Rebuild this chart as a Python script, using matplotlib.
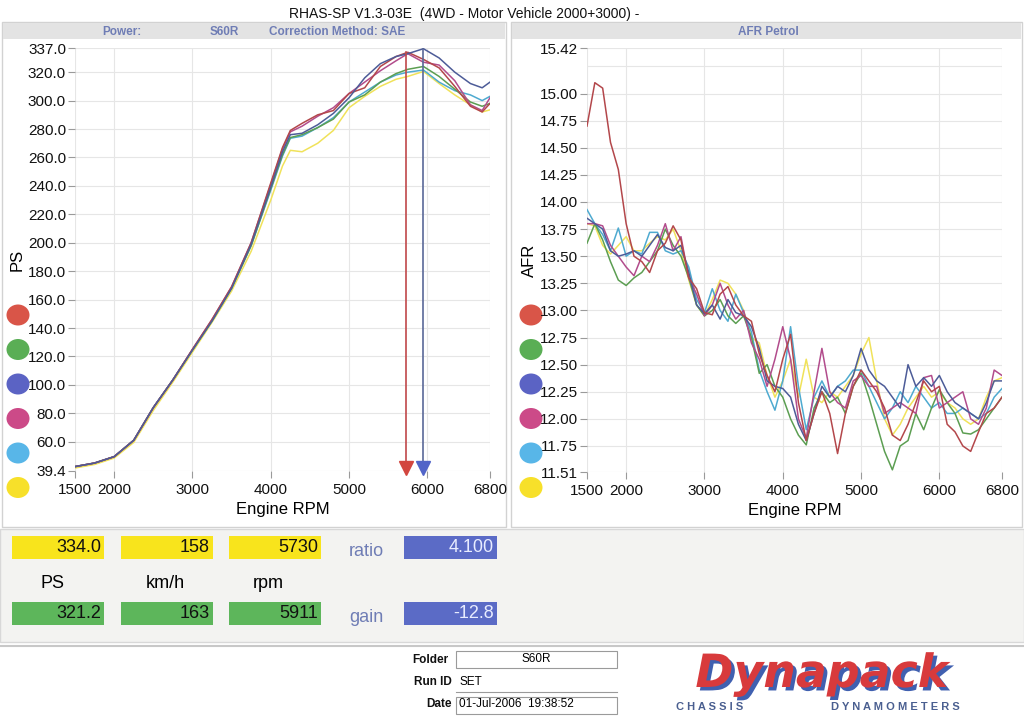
import matplotlib
matplotlib.use("Agg")
from matplotlib import pyplot as plt
from matplotlib import patheffects
from matplotlib.patches import Rectangle, Ellipse

plt.rcParams['font.family'] = ['Liberation Sans', 'DejaVu Sans']

# ---- power curves (PS vs rpm) ----
pw_rpm = [1500, 1750, 2000, 2250, 2500, 2750, 3000, 3250, 3500, 3750, 4000, 4150, 4250,
          4400, 4600, 4800, 5000, 5200, 5400, 5600, 5750, 5950, 6150, 6350, 6550, 6700, 6800]
ps_red = [42.5, 45, 49.5, 61, 84, 103.5, 125, 146, 169, 200, 242, 267, 279,
          284, 290, 293, 305, 309, 324, 331, 334, 329, 323, 310, 296, 292, 298]
ps_green = [42.5, 45, 49.5, 61, 84, 103.5, 124.5, 145, 168, 198, 238, 262, 274,
            276, 281, 287, 299, 304, 313, 319, 322, 324, 317, 308, 299, 296, 298]
ps_blue = [42.5, 45, 49.5, 61, 84, 103.5, 124.5, 145, 168, 199, 239, 264, 276,
           277, 283, 291, 302, 316, 326, 331, 333, 336.5, 330, 320, 312, 309, 313]
ps_magenta = [42.5, 45, 49.5, 61, 84, 103.5, 125, 146, 169, 200, 241, 266, 278,
              282, 289, 295, 305, 313, 321, 328, 333, 327, 325, 314, 297, 293, 302]
ps_cyan = [42.5, 45, 49.5, 61, 84, 103.5, 124.5, 145, 168, 198, 237, 261, 273.5,
           275, 281, 288, 299, 306, 313, 318, 320, 321.5, 313, 307, 304, 300, 303]
ps_yellow = [41.5, 44, 48.5, 59.5, 82, 102, 123, 144, 166, 194, 230, 254, 265,
             264, 270, 279, 295, 303, 310, 315, 317, 320.5, 312, 304, 297, 292, 293.5]

# ---- AFR curves ----
afr_rpm = [1500, 1600, 1700, 1800, 1900, 2000, 2100, 2200, 2300, 2400, 2500, 2600, 2700, 2800,
           2900, 3000, 3100, 3200, 3300, 3400, 3500, 3600, 3700, 3800, 3900, 4000, 4100, 4200,
           4300, 4400, 4500, 4600, 4700, 4800, 4900, 5000, 5100, 5200, 5300, 5400, 5500, 5600,
           5700, 5800, 5900, 6000, 6100, 6200, 6300, 6400, 6500, 6600, 6700, 6800]
afr_red = [14.70, 15.10, 15.05, 14.55, 14.30, 13.80, 13.50, 13.45, 13.35, 13.55, 13.62, 13.78, 13.65, 13.30,
           13.20, 12.98, 12.96, 13.15, 13.22, 13.05, 12.95, 12.90, 12.60, 12.40, 12.25, 12.55, 12.78, 12.15,
           11.80, 12.05, 12.25, 12.05, 11.68, 12.05, 12.30, 12.45, 12.35, 12.25, 12.10, 11.85, 11.80, 11.95,
           12.15, 12.35, 12.25, 12.30, 11.95, 11.88, 11.75, 11.70, 11.88, 12.05, 12.10, 12.20]
afr_green = [13.62, 13.80, 13.65, 13.45, 13.28, 13.23, 13.30, 13.35, 13.45, 13.55, 13.75, 13.60, 13.50, 13.30,
             13.05, 12.95, 13.00, 13.10, 12.95, 12.88, 12.95, 12.75, 12.42, 12.50, 12.30, 12.20, 12.00, 11.85,
             11.76, 12.10, 12.25, 12.15, 12.20, 12.05, 12.30, 12.42, 12.20, 11.95, 11.70, 11.53, 11.75, 11.80,
             12.05, 11.90, 12.10, 12.27, 12.15, 12.05, 11.87, 11.86, 11.90, 12.00, 12.10, 12.20]
afr_blue = [13.85, 13.80, 13.75, 13.55, 13.50, 13.52, 13.55, 13.50, 13.60, 13.70, 13.58, 13.55, 13.60, 13.35,
            13.05, 12.97, 13.05, 12.92, 13.10, 12.98, 12.95, 12.85, 12.65, 12.35, 12.30, 12.28, 12.20, 11.95,
            11.80, 12.05, 12.30, 12.20, 12.30, 12.25, 12.40, 12.65, 12.45, 12.35, 12.30, 12.20, 12.10, 12.50,
            12.30, 12.38, 12.30, 12.40, 12.25, 12.15, 12.10, 12.05, 12.00, 12.15, 12.35, 12.35]
afr_magenta = [13.80, 13.80, 13.78, 13.60, 13.50, 13.40, 13.32, 13.50, 13.45, 13.60, 13.80, 13.55, 13.68, 13.30,
               13.15, 12.95, 13.05, 13.25, 13.05, 12.92, 13.00, 12.70, 12.55, 12.30, 12.55, 12.85, 12.55, 12.00,
               11.82, 12.25, 12.65, 12.25, 12.15, 12.10, 12.35, 12.40, 12.30, 12.30, 12.05, 12.10, 12.15, 12.10,
               12.05, 12.38, 12.40, 12.10, 12.15, 12.20, 12.25, 12.00, 11.95, 12.10, 12.45, 12.40]
afr_cyan = [13.93, 13.80, 13.70, 13.55, 13.76, 13.50, 13.55, 13.52, 13.72, 13.72, 13.55, 13.52, 13.55, 13.40,
            13.10, 12.98, 13.20, 13.00, 12.90, 13.15, 12.98, 12.80, 12.45, 12.25, 12.08, 12.35, 12.85, 12.30,
            11.90, 12.20, 12.35, 12.20, 12.30, 12.35, 12.45, 12.45, 12.30, 12.15, 12.00, 12.10, 12.25, 12.15,
            12.30, 12.20, 12.10, 12.15, 12.05, 12.05, 12.10, 12.05, 12.00, 12.05, 12.20, 12.28]
afr_yellow = [13.80, 13.78, 13.60, 13.52, 13.60, 13.68, 13.55, 13.55, 13.62, 13.68, 13.65, 13.75, 13.55, 13.28,
              13.05, 12.95, 13.10, 13.28, 13.25, 13.15, 13.00, 12.75, 12.70, 12.40, 12.20, 12.35, 12.55, 12.20,
              12.55, 12.20, 12.15, 12.25, 12.20, 12.30, 12.40, 12.60, 12.75, 12.35, 12.00, 11.85, 11.95, 12.10,
              12.20, 12.30, 12.20, 12.25, 12.15, 12.10, 12.00, 11.95, 12.00, 12.20, 12.35, 12.38]

line_cols = ['#b3474b', '#5c9e52', '#4d5c98', '#b24c8c', '#4eaad0', '#f0e25a']
dot_cols = ['#d95548', '#5aae55', '#5b63c4', '#cc4a88', '#58b6e8', '#f7e02a']

ps_ticks = [39.4, 60, 80, 100, 120, 140, 160, 180, 200, 220, 240, 260, 280, 300, 320, 337]
afr_ticks = [11.51, 11.75, 12.00, 12.25, 12.50, 12.75, 13.00, 13.25, 13.50, 13.75, 14.00,
             14.25, 14.50, 14.75, 15.00, 15.42]
rpm_ticks = [1500, 2000, 3000, 4000, 5000, 6000, 6800]

peak_rpm = [5730, 5950]
peak_ps = [334.0, 336.5]

top_vals = ['334.0', '158', '5730']
bot_vals = ['321.2', '163', '5911']
units = ['PS', 'km/h', 'rpm']

fig = plt.figure(figsize=(10.24, 7.18), dpi=100)
fig.patch.set_facecolor('white')

# background sheet in pixel coordinates
bg = fig.add_axes([0, 0, 1, 1], zorder=0)
bg.set_xlim(0, 1024)
bg.set_ylim(718, 0)
bg.axis('off')

for x0, w in [(2, 504), (511, 511)]:
    bg.add_patch(Rectangle((x0, 22), w, 505, fc='white', ec='#d2d2d2', lw=1))
    bg.add_patch(Rectangle((x0 + 1, 23), w - 2, 16, fc='#e3e3e3', ec='none'))

bg.text(464, 14, 'RHAS-SP V1.3-03E  (4WD - Motor Vehicle 2000+3000) -', ha='center',
        va='center', fontsize=10, color='#111111')
hdr = dict(va='center', ha='center', fontsize=8.5, fontweight='bold', color='#6f7db5')
bg.text(122, 32, 'Power:', **hdr)
bg.text(224, 32, 'S60R', **hdr)
bg.text(337, 32, 'Correction Method: SAE', **hdr)
bg.text(768, 32, 'AFR Petrol', **hdr)

# legend dots
for cx in [18, 531]:
    for i, c in enumerate(dot_cols):
        bg.add_patch(Ellipse((cx, 315 + i * 34.5), 23, 21, fc=c, ec='none'))

# lower info panel
bg.add_patch(Rectangle((0, 529), 1024, 113, fc='#f3f3f1', ec='#d8d8d8', lw=1))
for i in range(3):
    x0 = 12 + i * 108.5
    bg.add_patch(Rectangle((x0, 536), 92, 23, fc='#f8e41c', ec='none'))
    bg.add_patch(Rectangle((x0, 602), 92, 23, fc='#5db65b', ec='none'))
    bg.text(x0 + 89, 548, top_vals[i], ha='right', va='center', fontsize=13, color='#111111')
    bg.text(x0 + 89, 614, bot_vals[i], ha='right', va='center', fontsize=13, color='#111111')
bg.text(52, 584, units[0], ha='center', va='center', fontsize=13)
bg.text(165, 584, units[1], ha='center', va='center', fontsize=13)
bg.text(268, 584, units[2], ha='center', va='center', fontsize=13)
bg.add_patch(Rectangle((404, 536), 93, 23, fc='#5b6bc6', ec='none'))
bg.add_patch(Rectangle((404, 602), 93, 23, fc='#5b6bc6', ec='none'))
bg.text(494, 548, '4.100', ha='right', va='center', fontsize=13, color='#e8ecff')
bg.text(494, 614, '-12.8', ha='right', va='center', fontsize=13, color='#e8ecff')
bg.text(366, 551, 'ratio', ha='center', va='center', fontsize=13, color='#6f7db5')
bg.text(366, 617, 'gain', ha='center', va='center', fontsize=13, color='#6f7db5')

# footer
bg.plot([0, 1024], [646, 646], color='#c8c8c8', lw=1.5)
lab = dict(ha='right', va='center', fontsize=8.5, fontweight='bold', color='#111111')
bg.text(448, 660, 'Folder', **lab)
bg.text(452, 682, 'Run ID', **lab)
bg.text(452, 704, 'Date', **lab)
bg.add_patch(Rectangle((456, 651), 161, 17, fc='white', ec='#9a9a9a', lw=0.8))
bg.plot([456, 617], [692, 692], color='#9a9a9a', lw=0.8)
bg.add_patch(Rectangle((456, 697), 161, 17, fc='white', ec='#9a9a9a', lw=0.8))
bg.text(536, 659, 'S60R', ha='center', va='center', fontsize=8.5)
bg.text(459, 682, 'SET', ha='left', va='center', fontsize=8.5)
bg.text(459, 704, '01-Jul-2006  19:38:52', ha='left', va='center', fontsize=8.5)

# logo: one text with a blue drop shadow
shadow = [patheffects.withSimplePatchShadow(offset=(2.5, -2.5), shadow_rgbFace='#4060b0',
                                            alpha=1.0)]
bg.text(822, 687, 'Dynapack', ha='center', va='baseline', fontsize=33, fontweight='bold',
        style='italic', family=['DejaVu Sans'], color='#d83a3c', path_effects=shadow)
bg.text(710, 707, 'C H A S S I S', ha='center', va='center', fontsize=8,
        fontweight='bold', color='#4a5f90')
bg.text(895, 707, 'D Y N A M O M E T E R S', ha='center', va='center', fontsize=8,
        fontweight='bold', color='#4a5f90')


def style_axes(ax, yticks, fmt, ylabel):
    ax.set_facecolor('none')
    for s in ax.spines.values():
        s.set_visible(False)
    ax.set_xlim(1500, 6800)
    ax.set_xticks(rpm_ticks)
    ax.set_xticklabels([str(t) for t in rpm_ticks])
    ax.set_yticks(yticks)
    ax.set_yticklabels([fmt % t for t in yticks])
    ax.tick_params(length=5, width=0.8, color='#9a9a9a', labelsize=11,
                   labelcolor='#111111')
    ax.tick_params(axis='y', pad=1.5)
    ax.tick_params(axis='x', pad=3.5)
    ax.grid(True, color='#e6e6e6', lw=0.8)
    ax.set_axisbelow(True)
    ax.set_xlabel('Engine RPM', fontsize=12, labelpad=4)
    ax.set_ylabel(ylabel, fontsize=12, labelpad=2)


ax1 = fig.add_axes([75 / 1024, 1 - 471 / 718, 415 / 1024, 423 / 718], zorder=2)
style_axes(ax1, ps_ticks, '%.1f', 'PS')
ax1.set_ylim(39.4, 337)
ps_all = [ps_red, ps_green, ps_blue, ps_magenta, ps_cyan, ps_yellow]
for i in [5, 4, 1, 3, 0, 2]:
    ax1.plot(pw_rpm, ps_all[i], color=line_cols[i], lw=1.1)
ax1.plot([peak_rpm[0], peak_rpm[0]], [peak_ps[0], 42], color='#c0484a', lw=1.2)
ax1.plot([peak_rpm[1], peak_rpm[1]], [peak_ps[1], 42], color='#5a6898', lw=1.2)
ax1.plot(peak_rpm[0], 41.5, marker='v', ms=10, color='#d2463f', clip_on=False)
ax1.plot(peak_rpm[1], 41.5, marker='v', ms=10, color='#5164c8', clip_on=False)

ax2 = fig.add_axes([587 / 1024, 1 - 472 / 718, 415 / 1024, 424 / 718], zorder=2)
style_axes(ax2, afr_ticks, '%.2f', 'AFR')
ax2.set_ylim(11.51, 15.42)
ax2.axhline(15.25, color='#e6e6e6', lw=0.8, zorder=0)
afr_all = [afr_red, afr_green, afr_blue, afr_magenta, afr_cyan, afr_yellow]
for i in [5, 4, 1, 3, 2, 0]:
    ax2.plot(afr_rpm, afr_all[i], color=line_cols[i], lw=1.1)

plt.savefig('out.png', dpi=100)
